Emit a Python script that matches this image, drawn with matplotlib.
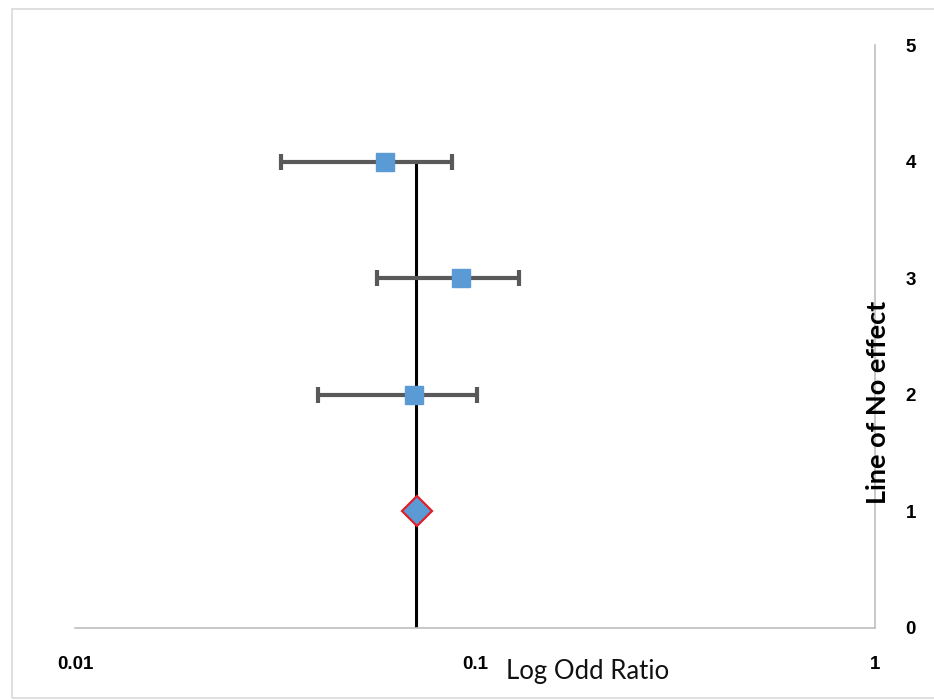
import matplotlib
matplotlib.use("Agg")
import matplotlib.pyplot as plt
import matplotlib.patches as mpatches

# study estimates (odds ratio, lower CI, upper CI) at rows 4, 3, 2
study_y = [4, 3, 2]
study_or = [0.0596, 0.0923, 0.0704]
study_lo = [0.0327, 0.0569, 0.0405]
study_hi = [0.0876, 0.1288, 0.1012]

# pooled estimate
pooled_y = [1]
pooled_or = [0.0716]

# line of no effect
no_effect_x = 0.0712
no_effect_y = [0, 4]

xticks = [0.01, 0.1, 1]
xtick_labels = ["0.01", "0.1", "1"]
yticks = [0, 1, 2, 3, 4, 5]

fig = plt.figure(figsize=(9.34, 7.0), dpi=100)
fig.patch.set_facecolor("white")
ax = fig.add_axes([0.0803, 0.1029, 0.8565, 0.8328])

# outer chart border
fig.patches.append(mpatches.Rectangle((0.013, 0.003), 0.99, 0.984, transform=fig.transFigure,
                                      fill=False, edgecolor="#d9d9d9", linewidth=1.2))

ax.set_xscale("log")
ax.set_xlim(0.01, 1)
ax.set_ylim(0, 5)

ax.plot([no_effect_x, no_effect_x], no_effect_y, color="black", linewidth=2.2, zorder=2)

err_lo = [o - l for o, l in zip(study_or, study_lo)]
err_hi = [h - o for o, h in zip(study_or, study_hi)]
ax.errorbar(study_or, study_y, xerr=[err_lo, err_hi], fmt="none",
            ecolor="#595959", elinewidth=3, capsize=6, capthick=3, zorder=3)
ax.plot(study_or, study_y, "s", color="#5b9bd5", markersize=13, zorder=4)
ax.plot(pooled_or, pooled_y, "D", markerfacecolor="#5b9bd5", markeredgecolor="#e0202a",
        markeredgewidth=1.6, markersize=15, zorder=4)

for s in ["top", "left"]:
    ax.spines[s].set_visible(False)
ax.spines["bottom"].set_color("#bfbfbf")
ax.spines["right"].set_color("#bfbfbf")
ax.spines["bottom"].set_linewidth(1.2)
ax.spines["right"].set_linewidth(1.2)

ax.yaxis.tick_right()
ax.set_yticks(yticks)
ax.set_yticklabels([str(v) for v in yticks], fontsize=13.5, fontweight="bold",
                   family="Liberation Sans")
ax.tick_params(axis="y", length=0, pad=22)

ax.set_xticks(xticks)
ax.set_xticklabels(xtick_labels, fontsize=13.5, fontweight="bold", family="Liberation Sans")
ax.xaxis.set_minor_locator(matplotlib.ticker.NullLocator())
ax.tick_params(axis="x", length=0, pad=20)

fig.text(0.629, 0.04, "Log Odd Ratio", ha="center", va="center", fontsize=18.5,
         family="Lato", color="#111111")
fig.text(0.9405, 0.425, "Line of No effect", ha="center", va="center", rotation=90,
         fontsize=19.5, fontweight="bold", family="Lato")

fig.savefig("out.png", dpi=100)
